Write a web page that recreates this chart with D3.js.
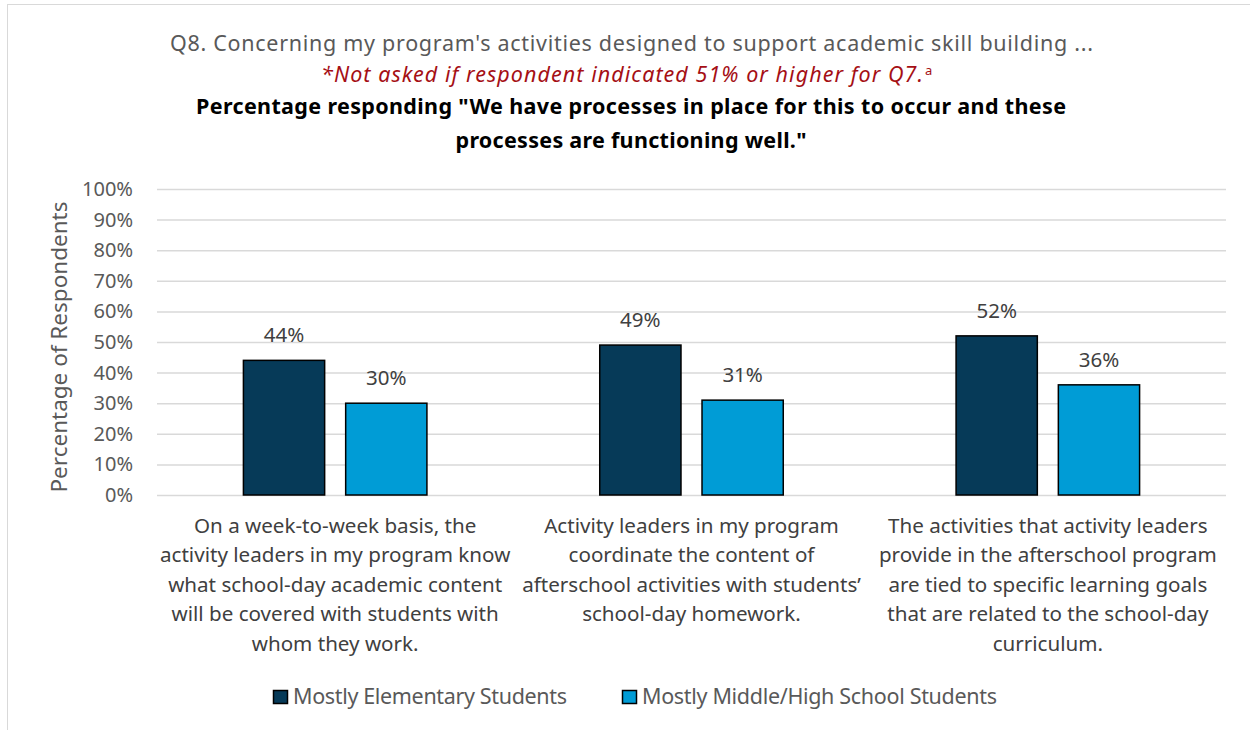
<!DOCTYPE html>
<html>
<head>
<meta charset="utf-8">
<script src="https://cdn.jsdelivr.net/npm/d3@7"></script>
<style>
  html, body { margin: 0; padding: 0; background: #fff; }
  svg { display: block; }
</style>
</head>
<body>
<svg id="chart" width="1250" height="730"></svg>
<script>
// Chart data
const categories = [
  ["On a week-to-week basis, the", "activity leaders in my program know", "what school-day academic content", "will be covered with students with", "whom they work."],
  ["Activity leaders in my program", "coordinate the content of", "afterschool activities with students\u2019", "school-day homework."],
  ["The activities that activity leaders", "provide in the afterschool program", "are tied to specific learning goals", "that are related to the school-day", "curriculum."]
];
const seriesNames = ["Mostly Elementary Students", "Mostly Middle/High School Students"];
const elementary = [44, 49, 52];
const middleHigh = [30, 31, 36];
const yTicks = [0, 10, 20, 30, 40, 50, 60, 70, 80, 90, 100];
const seriesColors = ["#063a58", "#009cd6"];

const svg = d3.select("#chart");
const W = 1250, H = 730;
const plot = { left: 157, right: 1226, top: 189, bottom: 495 };
const textGray = "#595959";
const labelFont = "'Noto Sans', 'Open Sans', 'DejaVu Sans', sans-serif";
const titleFont = "'Noto Sans', 'Open Sans', sans-serif";

// Outer frame
svg.append("rect")
  .attr("x", 7.5).attr("y", 4.5)
  .attr("width", W + 20).attr("height", H + 20)
  .attr("fill", "#fff").attr("stroke", "#d9d9d9").attr("stroke-width", 1);

// Titles
svg.append("text")
  .attr("x", 631.5).attr("y", 51)
  .attr("text-anchor", "middle")
  .attr("font-family", titleFont).attr("font-size", 21.5)
  .attr("textLength", 923).attr("lengthAdjust", "spacing")
  .attr("fill", textGray)
  .text("Q8. Concerning my program's activities designed to support academic skill building ...");

const sub = svg.append("text")
  .attr("x", 321).attr("y", 82)
  .attr("font-family", titleFont).attr("font-size", 21.5)
  .attr("font-style", "italic")
  .attr("fill", "#a50f15");
sub.append("tspan")
  .attr("textLength", 602).attr("lengthAdjust", "spacing")
  .text("*Not asked if respondent indicated 51% or higher for Q7.");
sub.append("tspan").attr("font-style", "normal").attr("font-size", 13).attr("dx", 1).attr("dy", -7).text("a");

const boldTitle = ["Percentage responding \"We have processes in place for this to occur and these",
                   "processes are functioning well.\""];
const boldWidths = [870, 351];
svg.append("g").selectAll("text").data(boldTitle).join("text")
  .attr("x", 631).attr("y", (d, i) => 114 + i * 34)
  .attr("text-anchor", "middle")
  .attr("font-family", titleFont).attr("font-size", 21.5).attr("font-weight", "bold")
  .attr("textLength", (d, i) => boldWidths[i]).attr("lengthAdjust", "spacing")
  .attr("fill", "#000")
  .text(d => d);

// Scales
const x0 = d3.scaleBand().domain(d3.range(categories.length)).range([plot.left, plot.right]);
const y = d3.scaleLinear().domain([0, 100]).range([plot.bottom, plot.top]);
const barW = x0.bandwidth() * 0.228;
const barGap = x0.bandwidth() * 0.059;

// Gridlines and tick labels
const yAxis = d3.axisLeft(y).tickValues(yTicks).tickFormat(d => d + "%")
  .tickSize(-(plot.right - plot.left)).tickPadding(24);
const gAxis = svg.append("g").attr("transform", `translate(${plot.left},0)`).call(yAxis);
gAxis.select(".domain").remove();
gAxis.selectAll(".tick line").attr("stroke", "#d9d9d9").attr("stroke-width", 1.5);
gAxis.selectAll(".tick text")
  .attr("font-family", labelFont).attr("font-size", 20).attr("fill", textGray);

// Y axis title
svg.append("text")
  .attr("transform", `translate(67, 347) rotate(-90)`)
  .attr("text-anchor", "middle")
  .attr("font-family", labelFont).attr("font-size", 22.5)
  .attr("fill", textGray)
  .text("Percentage of Respondents");

// Bars with value labels
const series = [elementary, middleHigh];
const barX = (ci, si) => x0(ci) + x0.bandwidth() / 2 + (si === 0 ? -barGap / 2 - barW : barGap / 2);
series.forEach((vals, si) => {
  const g = svg.append("g");
  g.selectAll("rect").data(vals).join("rect")
    .attr("x", (d, i) => barX(i, si))
    .attr("y", d => y(d))
    .attr("width", barW)
    .attr("height", d => y(0) - y(d))
    .attr("fill", seriesColors[si])
    .attr("stroke", "#000").attr("stroke-width", 1.5);
  g.selectAll("text").data(vals).join("text")
    .attr("x", (d, i) => barX(i, si) + barW / 2)
    .attr("y", d => y(d) - 18)
    .attr("text-anchor", "middle")
    .attr("font-family", labelFont).attr("font-size", 20.5)
    .attr("fill", "#404040")
    .text(d => d + "%");
});

// Category labels
const catG = svg.append("g");
categories.forEach((lines, ci) => {
  catG.append("g").selectAll("text").data(lines).join("text")
    .attr("x", x0(ci) + x0.bandwidth() / 2)
    .attr("y", (d, i) => 533 + i * 29.4)
    .attr("text-anchor", "middle")
    .attr("font-family", labelFont).attr("font-size", 20.6)
    .attr("fill", "#404040")
    .text(d => d);
});

// Legend
const legendX = [273, 622];
const legendW = [274, 355];
const lg = svg.append("g");
seriesNames.forEach((name, si) => {
  lg.append("rect")
    .attr("x", legendX[si] + 0.5).attr("y", 690.5)
    .attr("width", 14).attr("height", 13)
    .attr("fill", seriesColors[si]).attr("stroke", "#000").attr("stroke-width", 1.5);
  lg.append("text")
    .attr("x", legendX[si] + 20).attr("y", 704)
    .attr("font-family", titleFont).attr("font-size", 21.5)
    .attr("textLength", legendW[si]).attr("lengthAdjust", "spacing")
    .attr("fill", textGray)
    .text(name);
});
</script>
</body>
</html>
